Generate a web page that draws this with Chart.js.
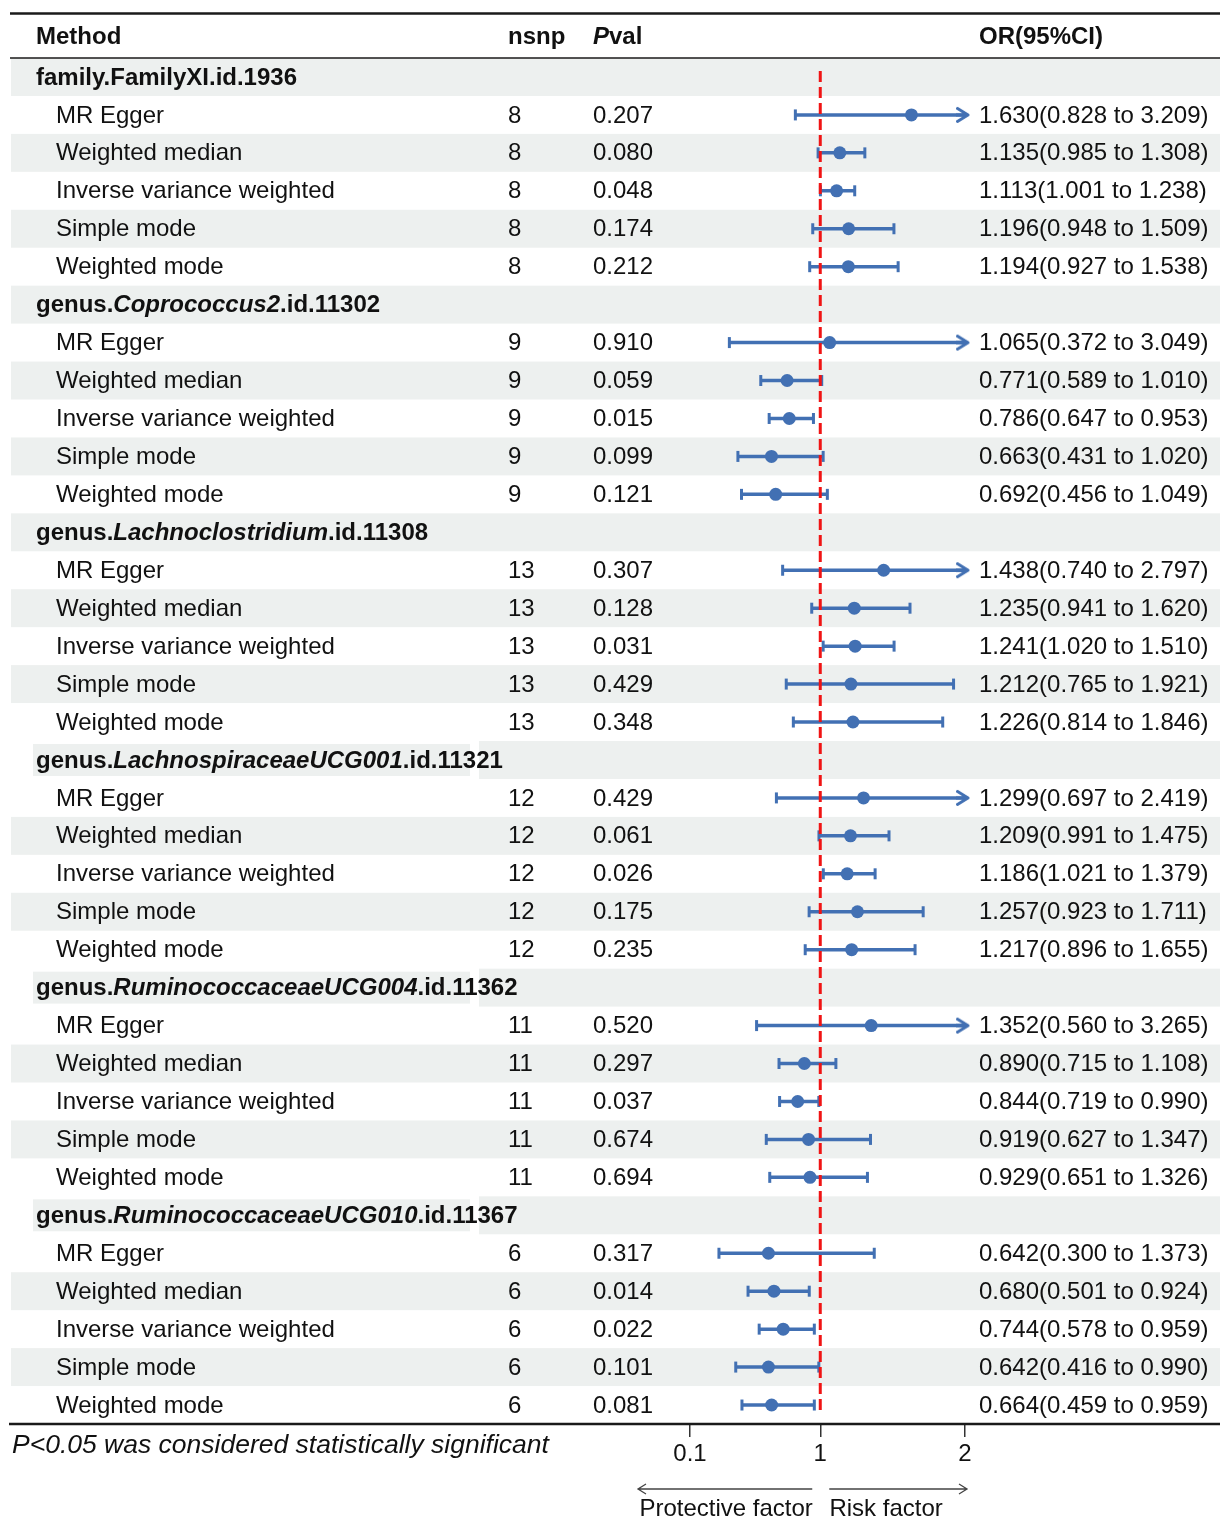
<!DOCTYPE html>
<html>
<head>
<meta charset="utf-8">
<script src="https://cdn.jsdelivr.net/npm/chart.js@4.4.1/dist/chart.umd.min.js"></script>
<style>
  html, body { margin: 0; padding: 0; background: #fff; }
  canvas { display: block; }
</style>
</head>
<body>
<canvas id="forest" width="1220" height="1520"></canvas>
<script>
// ---- data ----
const methods = ["MR Egger", "Weighted median", "Inverse variance weighted", "Simple mode", "Weighted mode"];
const groups = [
  "family.FamilyXI.id.1936",
  "genus.Coprococcus2.id.11302",
  "genus.Lachnoclostridium.id.11308",
  "genus.LachnospiraceaeUCG001.id.11321",
  "genus.RuminococcaceaeUCG004.id.11362",
  "genus.RuminococcaceaeUCG010.id.11367"
];
const groupItalic = ["", "Coprococcus2", "Lachnoclostridium", "LachnospiraceaeUCG001", "RuminococcaceaeUCG004", "RuminococcaceaeUCG010"];
const nsnp = [8, 9, 13, 12, 11, 6];
const pvals = [
  ["0.207", "0.080", "0.048", "0.174", "0.212"],
  ["0.910", "0.059", "0.015", "0.099", "0.121"],
  ["0.307", "0.128", "0.031", "0.429", "0.348"],
  ["0.429", "0.061", "0.026", "0.175", "0.235"],
  ["0.520", "0.297", "0.037", "0.674", "0.694"],
  ["0.317", "0.014", "0.022", "0.101", "0.081"]
];
const orEst = [
  [1.630, 1.135, 1.113, 1.196, 1.194],
  [1.065, 0.771, 0.786, 0.663, 0.692],
  [1.438, 1.235, 1.241, 1.212, 1.226],
  [1.299, 1.209, 1.186, 1.257, 1.217],
  [1.352, 0.890, 0.844, 0.919, 0.929],
  [0.642, 0.680, 0.744, 0.642, 0.664]
];
const orLow = [
  [0.828, 0.985, 1.001, 0.948, 0.927],
  [0.372, 0.589, 0.647, 0.431, 0.456],
  [0.740, 0.941, 1.020, 0.765, 0.814],
  [0.697, 0.991, 1.021, 0.923, 0.896],
  [0.560, 0.715, 0.719, 0.627, 0.651],
  [0.300, 0.501, 0.578, 0.416, 0.459]
];
const orHigh = [
  [3.209, 1.308, 1.238, 1.509, 1.538],
  [3.049, 1.010, 0.953, 1.020, 1.049],
  [2.797, 1.620, 1.510, 1.921, 1.846],
  [2.419, 1.475, 1.379, 1.711, 1.655],
  [3.265, 1.108, 0.990, 1.347, 1.326],
  [1.373, 0.924, 0.959, 0.990, 0.959]
];
const xTicks = [0.1, 1, 2];
const xMin = 0.1, xMax = 2, refValue = 1;

// ---- styles ----
const BLUE = "#4270b3";
const RED = "#f01414";
const GRAY = "#edf0ef";
const INK = "#111";
const FONT = "'Liberation Sans', Arial, Helvetica, sans-serif";

// flatten into table rows: a header row per group followed by its methods
const rows = [];
groups.forEach((name, g) => {
  rows.push({ type: "group", g });
  methods.forEach((m, k) => rows.push({ type: "item", g, k }));
});

// open arrow head for intervals running past the axis max
function makeArrowHead() {
  const c = document.createElement("canvas");
  c.width = 18; c.height = 18;
  const g = c.getContext("2d");
  g.strokeStyle = BLUE;
  g.lineWidth = 3;
  g.lineCap = "round";
  g.lineJoin = "round";
  g.beginPath();
  g.moveTo(0, 9); g.lineTo(12, 9);
  g.moveTo(1.5, 2.5); g.lineTo(12, 9); g.lineTo(1.5, 15.5);
  g.stroke();
  return c;
}
const arrowHead = makeArrowHead();

// ---- datasets ----
const refLine = {
  data: [{ x: refValue, y: -0.16 }, { x: refValue, y: 35.13 }],
  showLine: true,
  borderColor: RED,
  borderWidth: 3,
  borderDash: [11, 5],
  pointRadius: 0
};

const estimates = {
  data: rows.map((r, i) => r.type === "item" ? { x: orEst[r.g][r.k], y: i } : null).filter(Boolean),
  pointRadius: 6.5,
  pointBackgroundColor: BLUE,
  pointBorderWidth: 0,
  showLine: false
};

const intervals = [];
rows.forEach((r, i) => {
  if (r.type !== "item") return;
  const lo = orLow[r.g][r.k];
  const hi = orHigh[r.g][r.k];
  const over = hi > xMax;
  intervals.push({
    data: [{ x: lo, y: i }, { x: over ? xMax : hi, y: i }],
    showLine: true,
    borderColor: BLUE,
    borderWidth: 3.5,
    pointStyle: ["line", over ? arrowHead : "line"],
    pointRotation: [90, over ? 0 : 90],
    pointRadius: 5.5,
    pointBorderWidth: 3,
    pointBorderColor: BLUE,
    pointBackgroundColor: BLUE,
    clip: false
  });
});

// ---- table drawing ----
function font(size, bold, italic) {
  return `${italic ? "italic " : ""}${bold ? "bold " : ""}${size}px ${FONT}`;
}

function drawParts(ctx, parts, x, y) {
  parts.forEach(p => {
    ctx.font = p.font;
    ctx.fillText(p.text, x, y);
    x += ctx.measureText(p.text).width;
  });
  return x;
}

function groupParts(g) {
  const name = groups[g], it = groupItalic[g];
  if (!it) return [{ text: name, font: font(24, true, false) }];
  const at = name.indexOf(it);
  return [
    { text: name.slice(0, at), font: font(24, true, false) },
    { text: it, font: font(24, true, true) },
    { text: name.slice(at + it.length), font: font(24, true, false) }
  ];
}

const bandPlugin = {
  id: "bands",
  beforeDatasetsDraw(chart) {
    const { ctx } = chart;
    const y = chart.scales.y;
    ctx.save();
    rows.forEach((r, i) => {
      if (i % 2 !== 0) return;
      const top = y.getPixelForValue(i - 0.5);
      const bot = y.getPixelForValue(i + 0.5);
      ctx.fillStyle = GRAY;
      if (r.type === "group") {
        // long names overflow their cell: the cell box and the rest of the row separate
        let w = 0;
        groupParts(r.g).forEach(p => { ctx.font = p.font; w += ctx.measureText(p.text).width; });
        if (w > 430) {
          ctx.fillRect(33, top + 3, 437, bot - top - 6);
          ctx.fillRect(479, top, 1220 - 479, bot - top);
          return;
        }
      }
      ctx.fillRect(11, top, 1220 - 11, bot - top);
    });
    ctx.restore();
  }
};

const tablePlugin = {
  id: "table",
  afterDraw(chart) {
    const { ctx } = chart;
    const y = chart.scales.y;
    const x = chart.scales.x;
    ctx.save();
    ctx.fillStyle = INK;
    ctx.textBaseline = "middle";
    ctx.textAlign = "left";

    // header
    const hy = 37;
    ctx.font = font(24, true, false);
    ctx.fillText("Method", 36, hy);
    ctx.fillText("nsnp", 508, hy);
    drawParts(ctx, [{ text: "P", font: font(24, true, true) }, { text: "val", font: font(24, true, false) }], 593, hy);
    ctx.font = font(24, true, false);
    ctx.fillText("OR(95%CI)", 979, hy);

    rows.forEach((r, i) => {
      const yc = y.getPixelForValue(i) + 1;
      if (r.type === "group") {
        drawParts(ctx, groupParts(r.g), 36, yc);
        return;
      }
      ctx.font = font(24, false, false);
      ctx.fillText(methods[r.k], 56, yc);
      ctx.fillText(String(nsnp[r.g]), 508, yc);
      ctx.fillText(pvals[r.g][r.k], 593, yc);
      const o = orEst[r.g][r.k].toFixed(3), l = orLow[r.g][r.k].toFixed(3), h = orHigh[r.g][r.k].toFixed(3);
      ctx.fillText(`${o}(${l} to ${h})`, 979, yc);
    });

    // rules
    ctx.strokeStyle = "#1a1a1a";
    ctx.lineWidth = 2.5;
    ctx.beginPath(); ctx.moveTo(10, 13.5); ctx.lineTo(1220, 13.5); ctx.stroke();
    ctx.lineWidth = 1.5;
    ctx.beginPath(); ctx.moveTo(10, 58); ctx.lineTo(1220, 58); ctx.stroke();
    ctx.lineWidth = 2.5;
    const bottom = chart.chartArea.bottom;
    ctx.beginPath(); ctx.moveTo(9, bottom); ctx.lineTo(1220, bottom); ctx.stroke();

    // footnote
    ctx.font = font(26.5, false, true);
    ctx.fillText("P<0.05 was considered statistically significant", 12, 1446);

    // direction arrows under the axis
    const p1 = x.getPixelForValue(refValue);
    const p0 = x.getPixelForValue(xMin);
    const p2 = x.getPixelForValue(xMax);
    const ay = 1489;
    ctx.strokeStyle = "#444";
    ctx.lineWidth = 1.3;
    ctx.beginPath();
    ctx.moveTo(p1 - 8, ay); ctx.lineTo(p0 - 52, ay);
    ctx.moveTo(p0 - 44, ay - 5); ctx.lineTo(p0 - 52, ay); ctx.lineTo(p0 - 44, ay + 5);
    ctx.moveTo(p1 + 9, ay); ctx.lineTo(p2 + 2, ay);
    ctx.moveTo(p2 - 6, ay - 5); ctx.lineTo(p2 + 2, ay); ctx.lineTo(p2 - 6, ay + 5);
    ctx.stroke();
    ctx.font = font(24, false, false);
    ctx.textAlign = "center";
    ctx.fillText("Protective factor", (p0 - 52 + p1 - 8) / 2 + 1, 1509);
    ctx.fillText("Risk factor", (p1 + 9 + p2 + 2) / 2 - 12, 1509);
    ctx.restore();
  }
};

new Chart(document.getElementById("forest"), {
  type: "scatter",
  data: { datasets: [refLine, estimates, ...intervals] },
  options: {
    responsive: false,
    animation: false,
    devicePixelRatio: 1,
    layout: { padding: { left: 690, right: 255, top: 58, bottom: 56 } },
    plugins: { legend: { display: false }, tooltip: { enabled: false } },
    scales: {
      x: {
        type: "linear",
        min: xMin,
        max: xMax,
        afterBuildTicks: s => { s.ticks = xTicks.map(v => ({ value: v })); },
        afterFit: s => { s.height = 40; },
        border: { display: false },
        grid: { drawOnChartArea: false, drawTicks: true, tickLength: 13, color: "#333", lineWidth: 1.5 },
        ticks: {
          font: { family: FONT, size: 24 },
          color: INK,
          padding: 3,
          maxRotation: 0,
          autoSkip: false,
          callback: v => String(v)
        }
      },
      y: { type: "linear", reverse: true, min: -0.5, max: 35.5, display: false }
    }
  },
  plugins: [bandPlugin, tablePlugin]
});
</script>
</body>
</html>
